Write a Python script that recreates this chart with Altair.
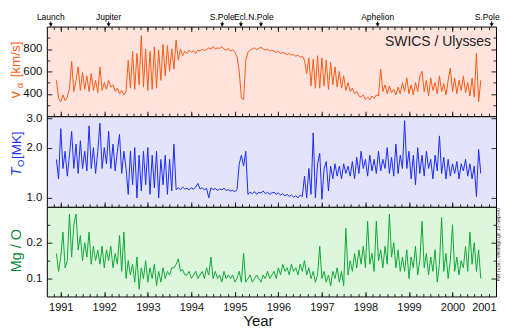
import altair as alt
import pandas as pd

FONT = "Liberation Sans"

# ---------------- data ----------------
start_year = 1990.90
step_year = 0.05

v_alpha = [
    520, 360, 330, 390, 340, 370, 450, 690, 420, 520, 640, 430, 590, 440, 560, 420, 580, 430, 520, 410,
    640, 430, 500, 440, 520, 460, 480, 420, 450, 400, 430, 390, 420, 700, 450, 780, 440, 760, 480, 920,
    460, 800, 430, 780, 440, 820, 450, 790, 520, 840, 560, 830, 600, 800, 620, 880, 700, 800, 740, 780,
    760, 790, 770, 785, 760, 790, 780, 800, 785, 795, 810, 800, 820, 800, 810, 805, 820, 800, 790, 805,
    780, 795, 770, 730, 600, 360, 350, 700, 770, 790, 800, 810, 795, 805, 815, 800, 790, 800, 780, 790,
    780, 770, 780, 760, 770, 760, 750, 760, 745, 750, 735, 745, 725, 735, 700, 580, 720, 470, 710, 450,
    740, 450, 720, 470, 700, 440, 680, 480, 640, 460, 600, 450, 560, 430, 500, 420, 450, 400, 420, 380,
    370, 390, 350, 370, 345, 380, 360, 390, 380, 620, 420, 480, 400, 470, 410, 440, 390, 460, 400, 500,
    420, 540, 400, 480, 390, 500, 420, 560, 600, 420, 520, 380, 540, 430, 500, 400, 560, 420, 490, 390,
    520, 630, 420, 540, 400, 520, 430, 560, 410, 500, 380, 540, 370, 760, 330, 520,
]

t_oxygen = [
    1.7, 1.3, 2.6, 1.5, 1.9, 1.35, 1.8, 2.5, 1.5, 2.1, 1.4, 2.2, 1.5, 1.9, 1.45, 2.7, 1.5, 2.0, 1.4, 1.9,
    2.8, 1.5, 2.0, 1.6, 2.5, 1.5, 2.1, 1.45, 1.9, 2.4, 1.4, 1.9, 1.5, 1.05, 1.9, 1.2, 2.0, 1.0, 1.8, 1.1,
    1.9, 1.2, 2.0, 1.05, 1.8, 1.15, 1.9, 1.0, 1.7, 1.2, 1.8, 1.05, 1.7, 1.1, 2.1, 1.12, 1.15, 1.12, 1.16, 1.13,
    1.14, 1.12, 1.15, 1.13, 1.16, 1.22, 1.13, 1.15, 1.12, 1.14, 1.0, 1.15, 1.12, 1.14, 1.11, 1.13, 1.12, 1.14, 1.11, 1.12,
    1.10, 1.11, 1.09, 1.12, 1.6, 1.8, 1.55, 1.9, 1.05, 1.08, 1.06, 1.09, 1.05, 1.08, 1.07, 1.10, 1.06, 1.08, 1.05, 1.07,
    1.08, 1.05, 1.07, 1.04, 1.06, 1.03, 1.05, 1.02, 1.04, 1.01, 1.03, 1.0, 1.04, 1.02, 1.35, 1.0, 1.5, 1.05, 2.45, 1.0,
    1.6, 1.85, 0.98, 1.5, 1.65, 1.1, 1.55, 1.3, 1.6, 1.35, 1.55, 1.3, 1.6, 1.4, 1.55, 1.35, 1.65, 1.3, 1.75, 1.4,
    1.9, 1.5, 1.7, 1.35, 1.8, 1.45, 1.7, 1.4, 1.9, 1.45, 1.7, 1.5, 2.0, 1.4, 1.75, 1.35, 2.1, 1.4, 1.8, 1.5,
    2.9, 1.5, 1.9, 1.3, 1.8, 1.2, 2.0, 1.4, 1.8, 1.35, 1.9, 1.5, 1.7, 1.3, 1.8, 1.45, 2.35, 1.4, 1.75, 1.3,
    1.7, 1.35, 1.6, 1.4, 1.65, 1.3, 1.6, 1.45, 1.7, 1.35, 1.6, 1.3, 1.55, 1.02, 1.95, 1.4,
]

mg_o = [
    0.17, 0.12, 0.16, 0.23, 0.13, 0.15, 0.28, 0.16, 0.25, 0.28, 0.18, 0.22, 0.15, 0.20, 0.16, 0.23, 0.14, 0.19, 0.15, 0.18,
    0.14, 0.19, 0.13, 0.18, 0.15, 0.19, 0.13, 0.17, 0.14, 0.22, 0.12, 0.23, 0.10, 0.15, 0.11, 0.14, 0.09, 0.16, 0.07, 0.13,
    0.10, 0.15, 0.09, 0.13, 0.10, 0.14, 0.08, 0.12, 0.09, 0.13, 0.10, 0.12, 0.11, 0.13, 0.13, 0.14, 0.155, 0.12, 0.125, 0.11,
    0.11, 0.12, 0.10, 0.11, 0.12, 0.10, 0.11, 0.12, 0.10, 0.13, 0.11, 0.16, 0.10, 0.12, 0.10, 0.11, 0.09, 0.12, 0.10, 0.11,
    0.10, 0.11, 0.09, 0.10, 0.12, 0.09, 0.17, 0.09, 0.10, 0.11, 0.09, 0.10, 0.11, 0.10, 0.09, 0.11, 0.10, 0.12, 0.10, 0.11,
    0.12, 0.10, 0.13, 0.11, 0.14, 0.12, 0.13, 0.11, 0.14, 0.12, 0.13, 0.11, 0.14, 0.12, 0.15, 0.11, 0.13, 0.10, 0.12, 0.09,
    0.11, 0.19, 0.10, 0.12, 0.09, 0.11, 0.08, 0.12, 0.10, 0.13, 0.09, 0.12, 0.08, 0.24, 0.11, 0.15, 0.12, 0.17, 0.13, 0.18,
    0.14, 0.19, 0.13, 0.26, 0.14, 0.17, 0.12, 0.26, 0.15, 0.18, 0.13, 0.19, 0.14, 0.28, 0.16, 0.20, 0.13, 0.18, 0.12, 0.16,
    0.12, 0.18, 0.10, 0.16, 0.13, 0.19, 0.11, 0.15, 0.26, 0.13, 0.17, 0.11, 0.16, 0.12, 0.18, 0.09, 0.14, 0.27, 0.12, 0.17,
    0.10, 0.15, 0.25, 0.12, 0.16, 0.11, 0.15, 0.13, 0.19, 0.12, 0.23, 0.14, 0.20, 0.12, 0.18, 0.10,
]

years = [round(start_year + step_year * i, 2) for i in range(len(v_alpha))]

event_names = ["Launch", "Jupiter", "S.Pole", "Ecl.", "N.Pole", "Aphelion", "S.Pole"]
event_years = [1990.77, 1992.10, 1994.71, 1995.14, 1995.60, 1998.28, 2000.90]

x_domain = [1990.68, 2001.0]
year_ticks = list(range(1991, 2002))
minor_year_ticks = [round(1990 + k / 6, 4) for k in range(0, 67)]
minor_year_ticks = [t for t in minor_year_ticks if x_domain[0] <= t <= x_domain[1]]

v_major, v_minor = [400, 600, 800], [300, 500, 700, 900]
t_major = [1.0, 2.0, 3.0]
mg_major, mg_minor = [0.1, 0.2], [0.15, 0.25]

df = pd.DataFrame({"year": years, "v": v_alpha, "t": t_oxygen, "mg": mg_o})
events = pd.DataFrame({"year": event_years, "name": event_names})
events_inner = events.iloc[:-1]
events_last = events.iloc[-1:]
one = pd.DataFrame({"k": [0]})

W = 451


def ax(orient, values, size, **extra):
    opts = dict(orient=orient, values=values, tickSize=size, offset=-size, domain=False,
                grid=False, labels=False, title=None, tickColor="#111", tickWidth=0.9)
    opts.update(extra)
    return alt.Axis(**opts)


def label(text, x, y, size, color, angle=270, align="left", style="normal", baseline="alphabetic"):
    return alt.Chart(one).mark_text(text=text, font=FONT, fontSize=size, color=color, angle=angle,
                                    align=align, baseline=baseline, fontStyle=style).encode(
        x=alt.value(x), y=alt.value(y))


def panel(field, color, height, ydomain, ytype, ymajor, yminor, yfmt, bg, top_axis, bottom_labels, extras):
    xs = alt.Scale(domain=x_domain, nice=False, zero=False)
    if ytype == "log":
        ys = alt.Scale(domain=ydomain, type="log", nice=False)
    else:
        ys = alt.Scale(domain=ydomain, nice=False, zero=False)
    base = alt.Chart(df)
    if bottom_labels:
        xb = ax("bottom", year_ticks, 5, labels=True, format="d", labelFont=FONT, labelFontSize=11,
                labelColor="#111", labelPadding=5, labelFlush=True, labelOverlap=False,
                title="Year", titleFont=FONT, titleFontSize=15, titleFontWeight="normal",
                titleColor="#111", titlePadding=1, titleX=212)
    else:
        xb = ax("bottom", year_ticks, 5)
    yl = ax("left", ymajor, 5, labels=True, format=yfmt, labelFont=FONT, labelFontSize=11.5,
            labelColor="#111", labelPadding=5)
    line = base.mark_line(color=color, strokeWidth=1, clip=True).encode(
        x=alt.X("year:Q", scale=xs, axis=xb),
        y=alt.Y(f"{field}:Q", scale=ys, axis=yl),
    )
    g1 = base.mark_line(strokeOpacity=0, clip=True).encode(
        x=alt.X("year:Q", scale=xs, axis=ax("bottom", minor_year_ticks, 3)),
        y=alt.Y(f"{field}:Q", scale=ys, axis=ax("left", yminor, 3) if yminor else None),
    )
    g2 = base.mark_line(strokeOpacity=0, clip=True).encode(
        x=alt.X("year:Q", scale=xs, axis=ax("top", year_ticks, 5) if top_axis else None),
        y=alt.Y(f"{field}:Q", scale=ys, axis=ax("right", ymajor, 5)),
    )
    g3 = base.mark_line(strokeOpacity=0, clip=True).encode(
        x=alt.X("year:Q", scale=xs, axis=ax("top", minor_year_ticks, 3) if top_axis else None),
        y=alt.Y(f"{field}:Q", scale=ys, axis=ax("right", yminor, 3) if yminor else None),
    )
    layers = [line, g1, g2, g3] + extras(xs)
    return alt.layer(*layers).resolve_axis(x="independent", y="independent").properties(
        width=W, height=height,
        view=alt.ViewBackground(fill=bg, stroke="black", strokeWidth=1),
    )


def top_extras(xs):
    ev_text = alt.Chart(events_inner).mark_text(font=FONT, fontSize=8.5, baseline="alphabetic",
                                                color="#000").encode(
        x=alt.X("year:Q", scale=xs, axis=None), y=alt.value(-7), text="name:N")
    ev_text_last = alt.Chart(events_last).mark_text(font=FONT, fontSize=8.5, baseline="alphabetic",
                                                    align="right", dx=8, color="#000").encode(
        x=alt.X("year:Q", scale=xs, axis=None), y=alt.value(-7), text="name:N")
    ev_rule = alt.Chart(events).mark_rule(color="#000", strokeWidth=1).encode(
        x=alt.X("year:Q", scale=xs, axis=None), y=alt.value(-5), y2=alt.value(-1))
    ev_head = alt.Chart(events).mark_point(shape="triangle-down", filled=True, size=16,
                                           color="#000", opacity=1).encode(
        x=alt.X("year:Q", scale=xs, axis=None), y=alt.value(-1.5))
    orange = "#ff5a14"
    return [
        ev_text, ev_text_last, ev_rule, ev_head,
        label("SWICS / Ulysses", 446, 20, 14, "#222", angle=0, align="right"),
        label("v", -27, 72, 14, orange),
        label("\u03b1", -24, 62, 9.5, orange),
        label("[km/s]", -27, 51, 13.5, orange),
    ]


def mid_extras(xs):
    blue = "#2034f0"
    return [
        label("T", -26, 60, 14, blue, style="italic"),
        label("O", -23, 51, 9.5, blue),
        label("[MK]", -26, 43, 13.5, blue),
    ]


def bot_extras(xs):
    green = "#0a8a3c"
    return [
        label("Mg / O", -26, 44, 14.5, green, align="center"),
        label("hwt (ESI), velomgo.gif  15-Sep-00", W + 4, 38, 5, "#333", align="center"),
    ]


top = panel("v", "#ff5a14", 90, [200, 1000], "linear", v_major, v_minor, "d", "#ffe3dc",
            True, False, top_extras)
mid = panel("t", "#1a2cff", 91, [0.884, 3.083], "log", t_major, [], ".1f", "#e3e3fb",
            False, False, mid_extras)
bot = panel("mg", "#10a838", 90, [0.05, 0.3], "linear", mg_major, mg_minor, ".1f", "#dcf7dc",
            False, True, bot_extras)

chart = alt.vconcat(top, mid, bot, spacing=0, bounds="flush").properties(
    padding={"left": 0, "top": 3, "right": -1, "bottom": 0},
    background="white",
).configure(font=FONT)

chart.save("out.html", embed_options={"renderer": "svg", "actions": False})
